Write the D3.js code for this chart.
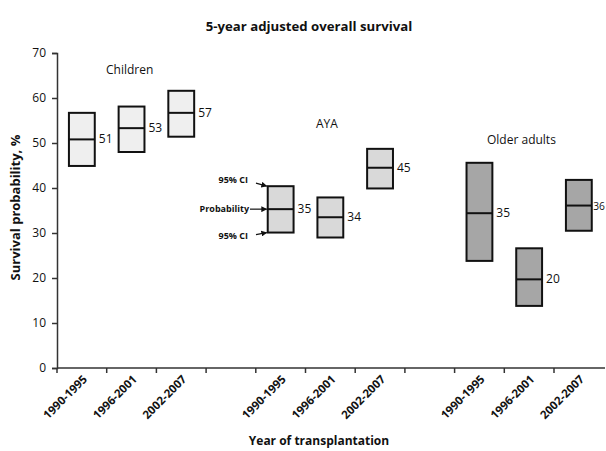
<!DOCTYPE html>
<html>
<head>
<meta charset="utf-8">
<script src="https://cdn.jsdelivr.net/npm/d3@7"></script>
<style>
  body { margin: 0; background: #fff; }
  text { font-family: "Open Sans", "Noto Sans", sans-serif; fill: #111; }
</style>
</head>
<body>
<div id="chart"></div>
<script>
let width = 606, height = 451;
let margin = {top: 53, right: 0, bottom: 83, left: 57};

// data
const groups = ["Children", "AYA", "Older adults"];
const periods = ["1990-1995", "1996-2001", "2002-2007"];
const lowCI = [[44.9, 48.0, 51.4], [30.1, 29.0, 39.9], [23.8, 13.8, 30.5]];
const prob = [[50.8, 53.3, 56.7], [35.3, 33.5, 44.5], [34.4, 19.7, 36.1]];
const highCI = [[56.7, 58.1, 61.6], [40.4, 37.9, 48.7], [45.6, 26.6, 41.8]];
const probLabels = [[51, 53, 57], [35, 34, 45], [35, 20, 36]];
const yTicks = [0, 10, 20, 30, 40, 50, 60, 70];
const groupFill = ["#efefef", "#d9d9d9", "#a6a6a6"];

// 11 category slots: 3 per group with an empty slot between groups
let slots = [];
groups.forEach((g, gi) => {
  periods.forEach((p, pi) => slots.push(g + "|" + p));
  if (gi < groups.length - 1) slots.push("gap" + gi);
});

let rows = [];
groups.forEach((g, gi) => {
  periods.forEach((p, pi) => {
    rows.push({group: g, gi: gi, period: p, key: g + "|" + p,
      low: lowCI[gi][pi], mid: prob[gi][pi], high: highCI[gi][pi], label: probLabels[gi][pi]});
  });
});

let svg = d3.select("#chart").append("svg")
    .attr("width", width)
    .attr("height", height);

let x = d3.scaleBand()
    .domain(slots)
    .range([margin.left, margin.left + 49.7 * slots.length])
    .paddingInner(0.48)
    .paddingOuter(0.24);

let y = d3.scaleLinear()
    .domain([0, 70])
    .range([height - margin.bottom, margin.top]);

let step = x.step();
let x0 = margin.left;

// title
svg.append("text")
    .attr("x", 309).attr("y", 31)
    .attr("text-anchor", "middle")
    .style("font-size", "13.2px").style("font-weight", "bold")
    .text("5-year adjusted overall survival");

// y axis
let yAxis = svg.append("g")
    .attr("transform", `translate(${x0},0)`)
    .call(d3.axisLeft(y).tickValues(yTicks).tickSize(5).tickPadding(6));
yAxis.select(".domain").attr("stroke", "#333").attr("stroke-width", 1.5);
yAxis.selectAll(".tick line").attr("stroke", "#333").attr("stroke-width", 1.5);
yAxis.selectAll(".tick text").style("font-size", "12px").attr("fill", "#222")
    .style("font-family", "'Open Sans', sans-serif");

svg.append("text")
    .attr("transform", `translate(20,${(y(0) + y(70)) / 2 - 3}) rotate(-90)`)
    .attr("text-anchor", "middle")
    .style("font-size", "13px").style("font-weight", "bold")
    .text("Survival probability, %");

// x axis: ticks sit between categories
let xBase = y(0);
svg.append("line")
    .attr("x1", x0).attr("x2", width - 1)
    .attr("y1", xBase).attr("y2", xBase)
    .attr("stroke", "#333").attr("stroke-width", 1.5);

svg.append("g").selectAll("line")
    .data(slots)
    .join("line")
    .attr("x1", d => x(d) - x.paddingOuter() * step)
    .attr("x2", d => x(d) - x.paddingOuter() * step)
    .attr("y1", xBase).attr("y2", xBase + 5)
    .attr("stroke", "#333").attr("stroke-width", 1.5);

svg.append("g").selectAll("text")
    .data(rows)
    .join("text")
    .attr("transform", d => `translate(${x(d.key) + x.bandwidth() / 2 + 6},${xBase + 12}) rotate(-45)`)
    .attr("text-anchor", "end")
    .style("font-size", "11.5px").style("font-weight", "bold")
    .text(d => d.period);

svg.append("text")
    .attr("x", 319).attr("y", 445)
    .attr("text-anchor", "middle")
    .style("font-size", "12px").style("font-weight", "bold")
    .text("Year of transplantation");

// boxes
let boxes = svg.append("g").selectAll("g.box")
    .data(rows)
    .join("g")
    .attr("class", "box");

boxes.append("rect")
    .attr("x", d => x(d.key))
    .attr("y", d => y(d.high))
    .attr("width", x.bandwidth())
    .attr("height", d => y(d.low) - y(d.high))
    .attr("fill", d => groupFill[d.gi])
    .attr("stroke", "#111")
    .attr("stroke-width", 2);

boxes.append("line")
    .attr("x1", d => x(d.key))
    .attr("x2", d => x(d.key) + x.bandwidth())
    .attr("y1", d => y(d.mid))
    .attr("y2", d => y(d.mid))
    .attr("stroke", "#111")
    .attr("stroke-width", 2);

boxes.append("text")
    .attr("x", d => x(d.key) + x.bandwidth() + 4)
    .attr("y", d => y(d.mid) + 4)
    .style("font-size", "12px")
    .attr("fill", "#222")
    .text(d => d.label)
    .each(function(d) {
      // the last label sits at the page edge: tuck it in and shrink it a little
      let w = this.getComputedTextLength();
      let lx = +this.getAttribute("x");
      if (lx + w > width - 1) {
        let nx = x(d.key) + x.bandwidth() + 1.5;
        let fs = Math.max(10, 12 * (width - 1 - nx) / w);
        this.setAttribute("x", nx);
        this.style.fontSize = fs + "px";
      }
    });

// group names
const groupLabelPos = [[106, 74], [316, 128], [487, 144]];
svg.append("g").selectAll("text")
    .data(groups)
    .join("text")
    .attr("x", (d, i) => groupLabelPos[i][0])
    .attr("y", (d, i) => groupLabelPos[i][1])
    .style("font-size", "12px")
    .attr("fill", "#333")
    .text(d => d);

// legend-like annotation on first AYA box
svg.append("defs").append("marker")
    .attr("id", "arrow")
    .attr("viewBox", "0 0 10 10")
    .attr("refX", 9).attr("refY", 5)
    .attr("markerWidth", 5).attr("markerHeight", 5)
    .attr("orient", "auto")
    .append("path").attr("d", "M0,0L10,5L0,10z").attr("fill", "#111");

let ref = rows.find(d => d.group === "AYA" && d.period === "1990-1995");
let bx = x(ref.key);
let notes = [
  {text: "95% CI", v: ref.high, tx: 248, ty: y(ref.high) - 3, ax: 256, ay: y(ref.high) - 3},
  {text: "Probability", v: ref.mid, tx: 249, ty: y(ref.mid) + 3, ax: 250, ay: y(ref.mid)},
  {text: "95% CI", v: ref.low, tx: 248, ty: y(ref.low) + 6, ax: 256, ay: y(ref.low) + 2}
];
svg.append("g").selectAll("text")
    .data(notes)
    .join("text")
    .attr("x", d => d.tx).attr("y", d => d.ty)
    .attr("text-anchor", "end")
    .style("font-size", "9px").style("font-weight", "bold")
    .text(d => d.text);
svg.append("g").selectAll("line")
    .data(notes)
    .join("line")
    .attr("x1", d => d.ax).attr("y1", d => d.ay)
    .attr("x2", d => bx - 1).attr("y2", d => y(d.v))
    .attr("stroke", "#111").attr("stroke-width", 1.2)
    .attr("marker-end", "url(#arrow)");
</script>
</body>
</html>
